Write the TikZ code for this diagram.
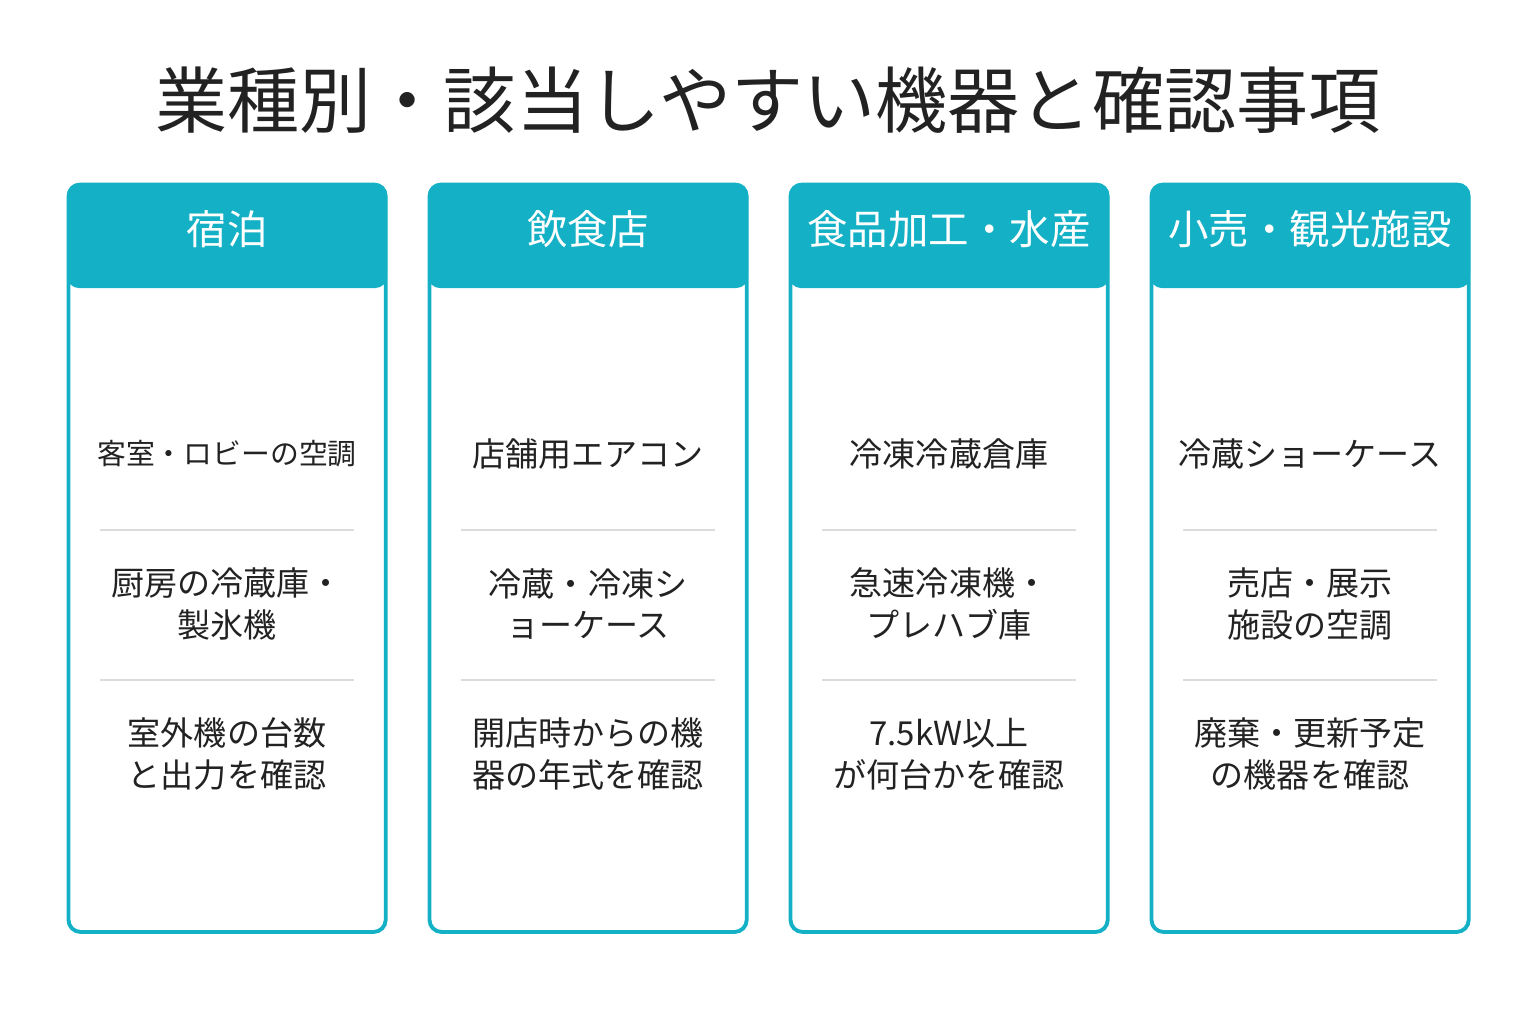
\documentclass[tikz,border=0pt]{standalone}
\usepackage{fontspec}
\setmainfont{Noto Sans CJK JP}
\definecolor{cardteal}{RGB}{20,177,198}
\definecolor{rulegray}{RGB}{220,220,220}
\definecolor{inkgray}{RGB}{34,34,34}
\usetikzlibrary{positioning}

\begin{document}
\begin{tikzpicture}[x=0.01cm, y=-0.01cm,
    card/.style={draw=cardteal, line width=1.1pt, outer sep=0pt, rounded corners=0.12cm, minimum width=3.17cm, minimum height=7.47cm, anchor=north west},
    head/.style={fill=cardteal, outer sep=0pt, rounded corners=0.12cm, minimum width=3.2cm, minimum height=1.05cm, anchor=north west},
    headtext/.style={text=white, font=\fontsize{11.5}{13}\selectfont},
    item/.style={align=center, text=inkgray, font=\fontsize{9.4}{11.8}\selectfont},
    sep/.style={draw=rulegray, line width=0.7pt}
  ]
  \useasboundingbox (0,0) rectangle (1536,1024);

  % Title
  \node[text=inkgray, font=\fontsize{20.5}{24}\selectfont] (title) at (768,100) {業種別・該当しやすい機器と確認事項};

  % Cards
  \node[card] (lodging) at (68.5,184.5) {};
  \node[card] (dining) at (429.5,184.5) {};
  \node[card] (foodproc) at (790.5,184.5) {};
  \node[card] (retail) at (1151.5,184.5) {};

  % Headers
  \node[head] (lodginghead) at (67,183) {};
  \node[head] (dininghead) at (428,183) {};
  \node[head] (foodprochead) at (789,183) {};
  \node[head] (retailhead) at (1150,183) {};
  \node[headtext] at (227,229) {宿泊};
  \node[headtext] at (588,229) {飲食店};
  \node[headtext] at (949,229) {食品加工・水産};
  \node[headtext] at (1310,229) {小売・観光施設};

  % Lodging items
  \node[item, font=\fontsize{8.2}{11.8}\selectfont] (lodgingA) at (227,454) {客室・ロビーの空調};
  \node[item] (lodgingB) at (227,604) {厨房の冷蔵庫・\\製氷機};
  \node[item] (lodgingC) at (227,754) {室外機の台数\\と出力を確認};

  % Dining items
  \node[item] (diningA) at (588,454) {店舗用エアコン};
  \node[item] (diningB) at (588,604) {冷蔵・冷凍シ\\ョーケース};
  \node[item] (diningC) at (588,754) {開店時からの機\\器の年式を確認};

  % Food processing items
  \node[item] (foodprocA) at (949,454) {冷凍冷蔵倉庫};
  \node[item] (foodprocB) at (949,604) {急速冷凍機・\\プレハブ庫};
  \node[item] (foodprocC) at (949,754) {7.5kW以上\\が何台かを確認};

  % Retail items
  \node[item] (retailA) at (1310,454) {冷蔵ショーケース};
  \node[item] (retailB) at (1310,604) {売店・展示\\施設の空調};
  \node[item] (retailC) at (1310,754) {廃棄・更新予定\\の機器を確認};

  % Separators
  \foreach \cx in {227,588,949,1310} {
    \draw[sep] (\cx-127,530) -- (\cx+127,530);
    \draw[sep] (\cx-127,680) -- (\cx+127,680);
  }
\end{tikzpicture}
\end{document}
